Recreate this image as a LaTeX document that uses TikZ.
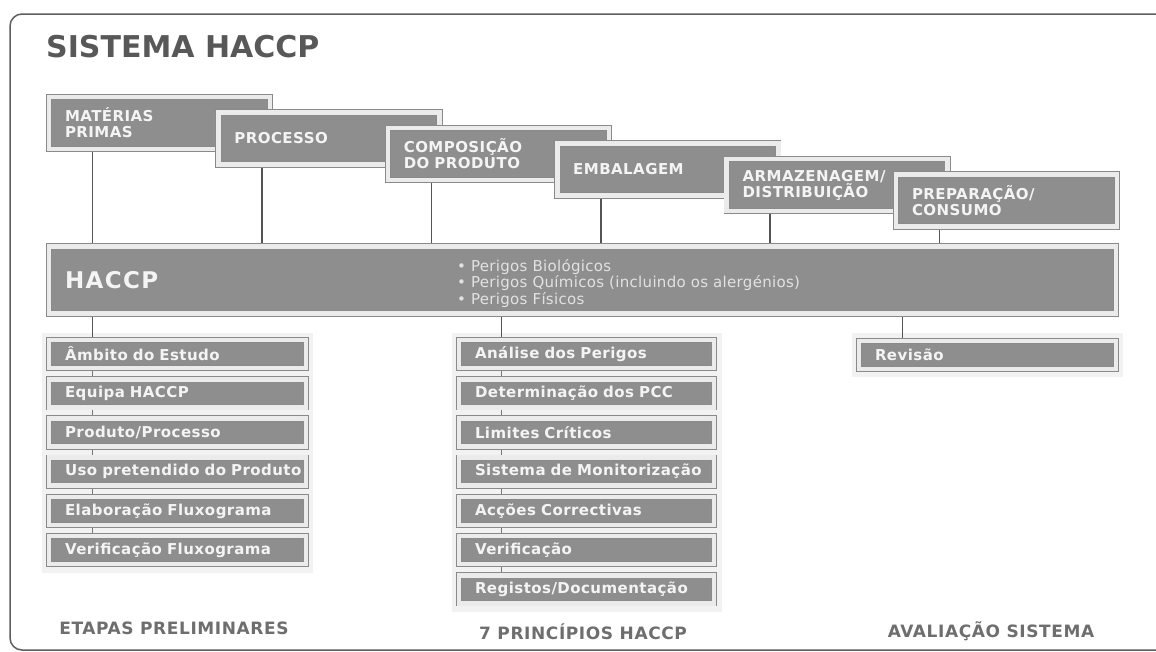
\documentclass[tikz,border=0pt]{standalone}
\usepackage{fontspec}
\usetikzlibrary{backgrounds}
\newfontfamily\ttlfont{DejaVu Sans}
\newfontfamily\bxfont{DejaVu Sans}[LetterSpace=3]
\newfontfamily\blfont{DejaVu Sans}[LetterSpace=2]
\newfontfamily\hcfont{DejaVu Sans}[LetterSpace=6]
\newfontfamily\capfont{DejaVu Sans}[LetterSpace=3.5]
\definecolor{boxfill}{HTML}{8E8E8E}
\definecolor{boxline}{HTML}{8A8A8A}
\definecolor{boxgap}{HTML}{EBEBEB}
\definecolor{labeltext}{HTML}{F4F4F4}
\definecolor{bullettext}{HTML}{E2E2E2}
\definecolor{titlegray}{HTML}{585858}
\definecolor{capgray}{HTML}{6E6E6E}
\definecolor{linegray}{HTML}{555555}
\definecolor{framegray}{HTML}{5E5E5E}
\definecolor{panelgray}{HTML}{F2F2F2}
\tikzset{
  hbox/.style={draw=boxline, line width=0.8pt, double=boxgap, double distance=4.6pt,
    fill=boxfill, text=labeltext, align=left, inner ysep=0pt, inner xsep=16pt},
  topbox/.style={hbox, minimum width=221pt, minimum height=52pt, text width=189pt,
    font=\bxfont\bfseries\fontsize{15}{16}\selectfont},
  lowbox/.style={hbox, minimum width=#1, minimum height=28pt, text width=#1-32pt,
    font=\bxfont\bfseries\fontsize{15}{16}\selectfont},
  barbox/.style={hbox, minimum width=1067pt, minimum height=67pt, text width=1035pt,
    font=\hcfont\bfseries\fontsize{23}{25}\selectfont},
  conn/.style={draw=linegray, line width=1.7pt},
  tick/.style={draw=linegray!80, line width=1pt},
  capt/.style={text=capgray, font=\capfont\bfseries\fontsize{17}{19}\selectfont, inner sep=0pt},
  panel/.style={fill=panelgray, draw=none}
}
\begin{document}
\begin{tikzpicture}[x=1pt,y=-1pt]
\useasboundingbox (0,0) rectangle (1156,651);
\draw[framegray, line width=1.5pt, rounded corners=12pt] (10,14) rectangle (1200,650);

% title
\node[anchor=base west, inner sep=0pt, text=titlegray, font=\ttlfont\bfseries\fontsize{30}{32}\selectfont] (title) at (46,57) {SISTEMA HACCP};

% top boxes
\node[topbox] (b0) at (159.5,123) {MATÉRIAS\\PRIMAS};
\node[topbox] (b1) at (328.9,138.5) {PROCESSO};
\node[topbox] (b2) at (498.3,154) {COMPOSIÇÃO\\DO PRODUTO};
\node[topbox] (b3) at (667.7,169.5) {EMBALAGEM};
\node[topbox] (b4) at (837.1,185) {ARMAZENAGEM/\\DISTRIBUIÇÃO};
\node[topbox] (b5) at (1006.5,200.5) {PREPARAÇÃO/\\CONSUMO};

% HACCP bar
\node[barbox] (bar) at (582.5,280) {HACCP};
\node[anchor=west, inner sep=0pt, align=left, text=bullettext,
  font=\blfont\fontsize{15}{16.5}\selectfont] (hazards) at (457,283.5)
  {• Perigos Biológicos\\• Perigos Químicos (incluindo os alergénios)\\• Perigos Físicos};

% left column
\node[lowbox=257pt] (l1) at (177.5,354) {Âmbito do Estudo};
\node[lowbox=257pt] (l2) at (177.5,393.2) {Equipa HACCP};
\node[lowbox=257pt] (l3) at (177.5,432.4) {Produto/Processo};
\node[lowbox=257pt] (l4) at (177.5,471.6) {\mbox{Uso pretendido do Produto}};
\node[lowbox=257pt] (l5) at (177.5,510.8) {\mbox{Elaboração Fluxograma}};
\node[lowbox=257pt] (l6) at (177.5,550) {\mbox{Verificação Fluxograma}};

% middle column
\node[lowbox=255pt] (m1) at (586.5,354) {Análise dos Perigos};
\node[lowbox=255pt] (m2) at (586.5,393.2) {Determinação dos PCC};
\node[lowbox=255pt] (m3) at (586.5,432.4) {Limites Críticos};
\node[lowbox=255pt] (m4) at (586.5,471.6) {\mbox{Sistema de Monitorização}};
\node[lowbox=255pt] (m5) at (586.5,510.8) {Acções Correctivas};
\node[lowbox=255pt] (m6) at (586.5,550) {Verificação};
\node[lowbox=255pt] (m7) at (586.5,589.2) {\mbox{Registos/Documentação}};

% right column
\node[lowbox=257pt] (r1) at (987.5,355) {Revisão};

% captions
\node[capt] (c1) at (174,628) {ETAPAS PRELIMINARES};
\node[capt] (c2) at (583,632) {7 PRINCÍPIOS HACCP};
\node[capt] (c3) at (991,631) {AVALIAÇÃO SISTEMA};

\begin{pgfonlayer}{background}
  \fill[white] (0,0) rectangle (1156,651);
  \fill[panel] (42,333) rectangle (313,573);
  \fill[panel] (452,333) rectangle (722,612);
  \fill[panel] (852,333) rectangle (1123,377);
  \foreach \b in {b0,b1,b2,b3,b4,b5}{
    \draw[conn] ([xshift=44pt]\b.south west) -- ([xshift=44pt]\b.south west |- bar.north);
  }
  \draw[conn] ([xshift=44pt]l1.north west |- bar.south) -- ([xshift=44pt]l1.north west);
  \draw[conn] ([xshift=43pt]m1.north west |- bar.south) -- ([xshift=43pt]m1.north west);
  \draw[conn] ([xshift=44pt]r1.north west |- bar.south) -- ([xshift=44pt]r1.north west);
  \foreach \a/\c in {l1/l2,l2/l3,l3/l4,l4/l5,l5/l6}{
    \draw[tick] ([xshift=44pt]\a.south west) -- ([xshift=44pt]\c.north west);
  }
  \foreach \a/\c in {m1/m2,m2/m3,m3/m4,m4/m5,m5/m6,m6/m7}{
    \draw[tick] ([xshift=43pt]\a.south west) -- ([xshift=43pt]\c.north west);
  }
\end{pgfonlayer}
\end{tikzpicture}
\end{document}
